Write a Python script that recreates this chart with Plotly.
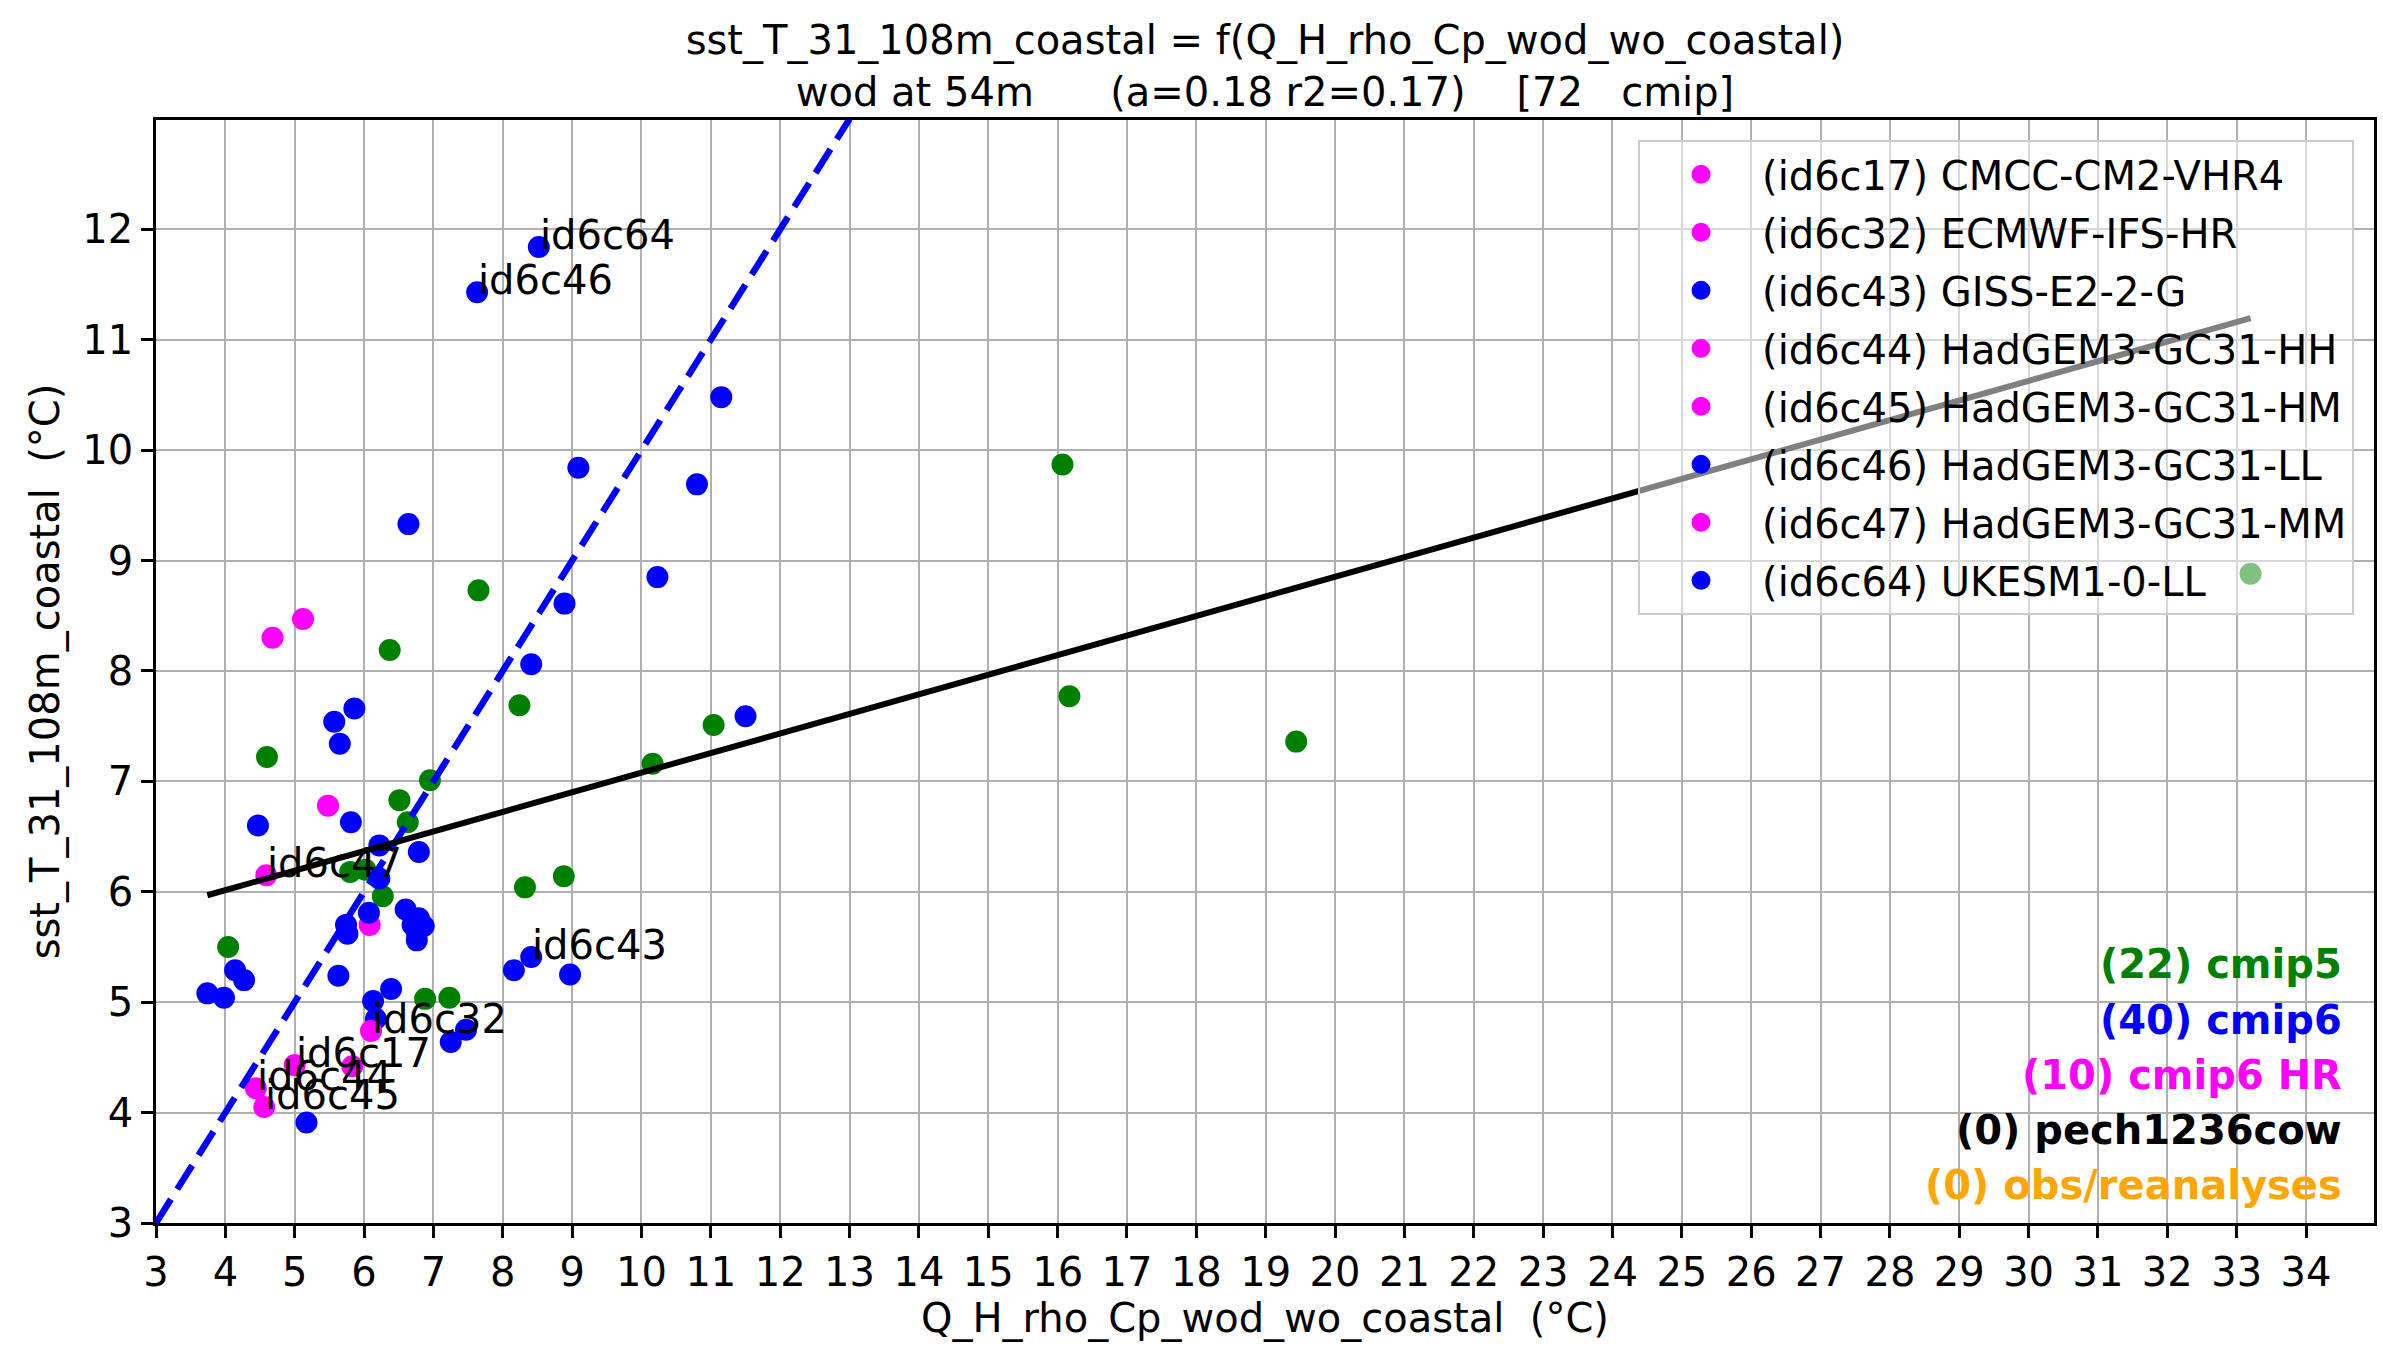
import plotly.graph_objects as go

# ---- cmip5 models (green) ----
cmip5_x = [6.37, 8.24, 4.60, 6.95, 10.16, 11.04, 6.51, 6.63, 5.80, 6.27, 4.04,
           6.88, 7.23, 7.65, 16.07, 16.17, 19.44, 33.20, 8.32, 8.88, 6.02, 6.76]
cmip5_y = [8.19, 7.69, 7.22, 7.01, 7.16, 7.51, 6.83, 6.63, 6.18, 5.96, 5.50,
           5.03, 5.04, 8.73, 9.87, 7.77, 7.36, 8.88, 6.04, 6.14, 6.20, 5.62]

# ---- cmip6 models without a tag (blue) ----
cmip6_x = [11.15, 9.09, 10.80, 6.64, 10.23, 8.89, 8.41, 5.57, 5.86, 5.65, 11.50,
           4.47, 5.81, 6.22, 6.79, 6.22, 6.07, 5.74, 5.76, 6.60, 6.79, 6.86,
           6.76, 4.14, 4.27, 3.74, 3.98, 5.63, 6.39, 6.13, 8.16, 8.97, 7.25,
           7.47, 5.17, 6.17, 6.70]
cmip6_y = [10.48, 9.84, 9.69, 9.33, 8.85, 8.61, 8.06, 7.54, 7.66, 7.34, 7.59,
           6.60, 6.63, 6.42, 6.36, 6.12, 5.81, 5.70, 5.62, 5.84, 5.76, 5.69,
           5.56, 5.29, 5.20, 5.08, 5.04, 5.24, 5.12, 5.01, 5.29, 5.25, 4.64,
           4.75, 3.91, 4.85, 5.70]

# ---- cmip6 high-resolution models without a tag (magenta) ----
hr_x = [4.68, 5.12, 5.48, 6.08, 5.83]
hr_y = [8.30, 8.47, 6.78, 5.70, 4.42]

# ---- tagged models (shown in the legend and annotated) ----
tag_ids = ["id6c17", "id6c32", "id6c43", "id6c44", "id6c45", "id6c46", "id6c47", "id6c64"]
tag_names = ["CMCC-CM2-VHR4", "ECMWF-IFS-HR", "GISS-E2-2-G", "HadGEM3-GC31-HH",
             "HadGEM3-GC31-HM", "HadGEM3-GC31-LL", "HadGEM3-GC31-MM", "UKESM1-0-LL"]
tag_group = ["cmip6 HR", "cmip6 HR", "cmip6", "cmip6 HR", "cmip6 HR", "cmip6", "cmip6 HR", "cmip6"]
tag_x = [5.00, 6.10, 8.41, 4.44, 4.56, 7.63, 4.59, 8.52]
tag_y = [4.43, 4.74, 5.41, 4.22, 4.05, 11.43, 6.15, 11.84]

# ---- linear fit over all models, and the 1:1 line ----
fit_slope = 0.1774
fit_intercept = 5.305
identity_line = [3, 13]

# ---- ensemble summary ----
group_names = ["cmip5", "cmip6", "cmip6 HR", "pech1236cow", "obs/reanalyses"]
group_counts = [22, 40, 10, 0, 0]

x_ticks = list(range(3, 35))
y_ticks = list(range(3, 13))

colors = {"cmip5": "#008000", "cmip6": "#0000ff", "cmip6 HR": "#ff00ff",
          "pech1236cow": "#000000", "obs/reanalyses": "#ffa500"}

FONT = "DejaVu Sans"
FS = 40


def dot(color):
    # filled disc ~22 px across: core plus a same-coloured rim
    return dict(size=19, color=color, line=dict(width=3, color=color))


fig = go.Figure()

fig.add_trace(go.Scatter(x=cmip5_x, y=cmip5_y, mode="markers", showlegend=False,
                         marker=dot(colors["cmip5"])))
fig.add_trace(go.Scatter(x=hr_x, y=hr_y, mode="markers", showlegend=False,
                         marker=dot(colors["cmip6 HR"])))
fig.add_trace(go.Scatter(x=cmip6_x, y=cmip6_y, mode="markers", showlegend=False,
                         marker=dot(colors["cmip6"])))

for tid, name, grp, x, y in zip(tag_ids, tag_names, tag_group, tag_x, tag_y):
    fig.add_trace(go.Scatter(x=[x], y=[y], mode="markers", name=f"({tid}) {name}",
                             legendgroup=tid, marker=dot(colors[grp])))
    fig.add_annotation(x=x, y=y, text=tid, showarrow=False, xanchor="left",
                       yanchor="bottom", xshift=-1, yshift=-13,
                       font=dict(family=FONT, size=FS, color="black"))

# 1:1 reference line
fig.add_trace(go.Scatter(x=identity_line, y=identity_line, mode="lines", showlegend=False,
                         line=dict(color="#0000ff", width=6.5, dash="28px,12px")))

# regression line across the model spread
all_x = cmip5_x + cmip6_x + hr_x + tag_x
x0, x1 = min(all_x), max(all_x)
fig.add_trace(go.Scatter(x=[x0, x1],
                         y=[fit_intercept + fit_slope * x0, fit_intercept + fit_slope * x1],
                         mode="lines", showlegend=False,
                         line=dict(color="black", width=6)))

# ensemble counts, bottom right
centers_px = [964, 1020, 1075, 1130, 1185]
for name, count, cy in zip(group_names, group_counts, centers_px):
    fig.add_annotation(xref="paper", yref="paper", x=0.9865, y=1 - (cy - 120) / 1102.7,
                       xanchor="right", yanchor="middle", showarrow=False,
                       text=f"<b>({count}) {name}</b>",
                       font=dict(family=FONT, size=FS, color=colors[name]))

title_txt = ("sst_T_31_108m_coastal = f(Q_H_rho_Cp_wod_wo_coastal)<br>"
             "wod at 54m" + "\u00a0" * 6 + "(a=0.18 r2=0.17)" + "\u00a0" * 4
             + "[72" + "\u00a0" * 3 + "cmip]")

axis_common = dict(showgrid=True, gridcolor="#b0b0b0", gridwidth=2, zeroline=False,
                   showline=True, mirror=True, linecolor="black", linewidth=2.5,
                   ticks="outside", ticklen=12, tickwidth=2.5, tickcolor="black",
                   tickfont=dict(family=FONT, size=FS, color="black"))

fig.update_layout(
    width=2383, height=1358,
    margin=dict(l=156, r=6, t=120, b=135),
    paper_bgcolor="white", plot_bgcolor="white",
    font=dict(family=FONT, size=FS, color="black"),
    title=dict(text=title_txt, x=0.5, xref="paper", xanchor="center",
               y=1 - 54 / 1358, yref="container", yanchor="top",
               font=dict(family=FONT, size=FS, color="black")),
    xaxis=dict(range=[3, 34.98], tickvals=x_ticks, ticktext=[str(v) for v in x_ticks],
               title=dict(text="Q_H_rho_Cp_wod_wo_coastal  (°C)", standoff=10,
                          font=dict(family=FONT, size=FS)),
               **axis_common),
    yaxis=dict(range=[3, 12.99], tickvals=y_ticks, ticktext=[str(v) for v in y_ticks],
               title=dict(text="sst_T_31_108m_coastal  (°C)", standoff=11,
                          font=dict(family=FONT, size=FS)),
               **axis_common),
    legend=dict(x=0.991, xanchor="right", y=0.982, yanchor="top",
                bgcolor="rgba(255,255,255,0.5)", bordercolor="#cccccc", borderwidth=2,
                font=dict(family=FONT, size=FS, color="black"),
                itemwidth=112, tracegroupgap=3),
)

fig.write_html("out.html")
